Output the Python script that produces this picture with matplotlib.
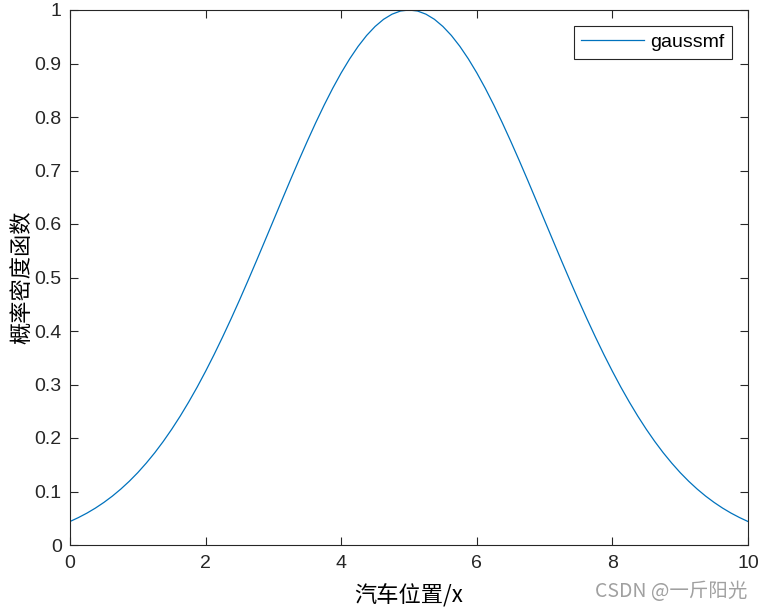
import matplotlib
matplotlib.use("Agg")
import matplotlib.pyplot as plt

# Значения (шаг 0.125, кривая симметрична около x=5)
x_pos = [i * 0.125 for i in range(81)]
half = [0.0439, 0.0513, 0.0596, 0.0690, 0.0796, 0.0914, 0.1046, 0.1192,
        0.1353, 0.1531, 0.1724, 0.1935, 0.2163, 0.2408, 0.2671, 0.2950,
        0.3247, 0.3559, 0.3886, 0.4226, 0.4578, 0.4941, 0.5311, 0.5687,
        0.6065, 0.6444, 0.6820, 0.7189, 0.7548, 0.7895, 0.8226, 0.8537,
        0.8825, 0.9087, 0.9321, 0.9524, 0.9692, 0.9826, 0.9922, 0.9981,
        1.0000]
density = half + half[-2::-1]

x_ticks = [0, 2, 4, 6, 8, 10]
y_ticks = [0, 0.1, 0.2, 0.3, 0.4, 0.5, 0.6, 0.7, 0.8, 0.9, 1]
y_tick_labels = ["0", "0.1", "0.2", "0.3", "0.4", "0.5", "0.6", "0.7",
                 "0.8", "0.9", "1"]

plt.rcParams["font.family"] = ["Liberation Sans", "Noto Sans CJK SC"]
cjk = ["Noto Sans CJK SC", "Liberation Sans"]

fig = plt.figure(figsize=(7.62, 6.10), dpi=100)
ax = fig.add_axes([70 / 762, 65 / 610, 678 / 762, 535 / 610])

ax.plot(x_pos, density, color="#0072BD", linewidth=0.9, label="gaussmf")
ax.set_xlim(0, 10)
ax.set_ylim(0, 1)
ax.set_xticks(x_ticks)
ax.set_yticks(y_ticks)
ax.set_yticklabels(y_tick_labels)
ax.tick_params(direction="in", length=6, width=0.8, labelsize=14,
               top=True, right=True, labeltop=False, labelright=False,
               colors="#262626")
ax.tick_params(axis="x", pad=7)
ax.tick_params(axis="y", pad=6)
for side in ax.spines.values():
    side.set_linewidth(0.8)
    side.set_color("#262626")

ax.set_xlabel("汽车位置/x", fontsize=16, family=cjk, labelpad=9)
ax.set_ylabel("概率密度函数", fontsize=16, family=cjk, labelpad=1)

leg = ax.legend(loc="upper right", fontsize=14, fancybox=False,
                framealpha=1, edgecolor="#262626", handlelength=3.2,
                handletextpad=0.35, borderaxespad=0.8, borderpad=0.4)
leg.get_frame().set_linewidth(0.8)

fig.text(0.981, 0.013, "CSDN @一斤阳光", ha="right", va="bottom",
         fontsize=14, color="#a0a0a0", family=cjk)

plt.savefig("out.png")
plt.close()
